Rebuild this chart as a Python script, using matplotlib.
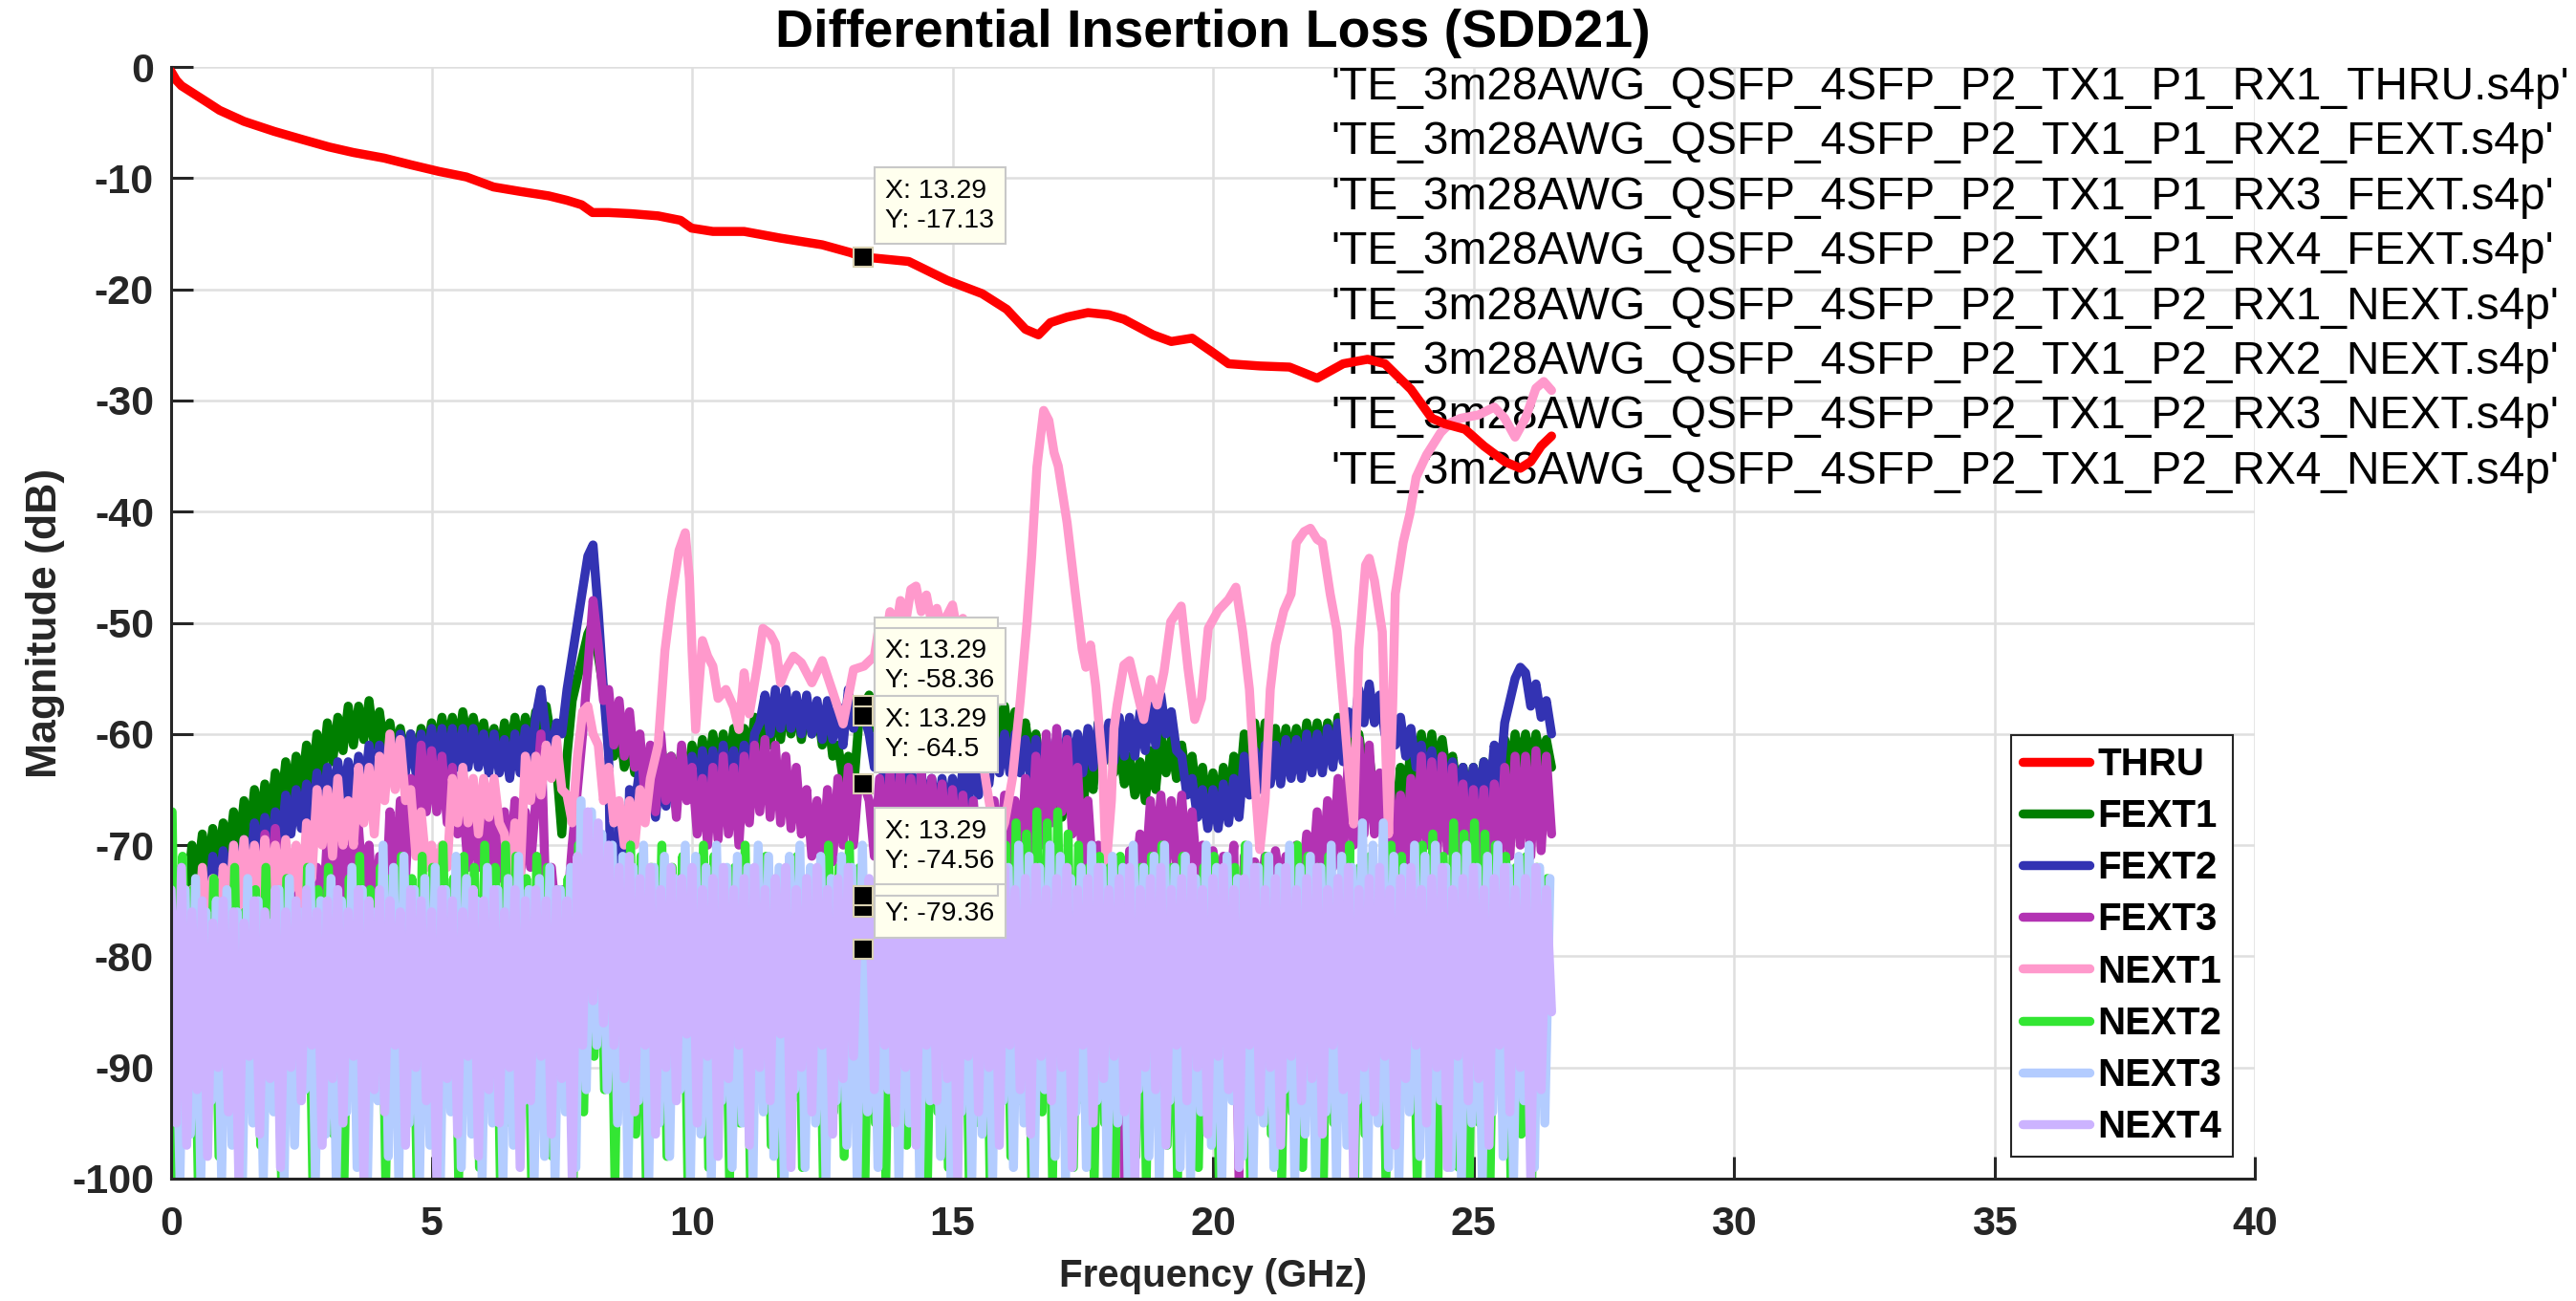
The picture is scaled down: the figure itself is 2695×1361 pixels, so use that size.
import numpy as np
import matplotlib.pyplot as plt

plt.rcParams['font.family'] = ['Liberation Sans', 'DejaVu Sans']

# ---------------- data (dB) ----------------
thru_f = [0, 0.1, 0.2, 0.4, 0.7, 0.93, 1.4, 1.98, 2.5, 3.03,
          3.5, 4.09, 4.6, 5.14, 5.67, 6.19, 6.7, 7.25, 7.6, 7.88,
          8.09, 8.4, 8.83, 9.35, 9.78, 9.99, 10.4, 11.0, 11.7, 12.5,
          13.04, 13.29, 13.51, 14.16, 14.9, 15.57, 16.04, 16.4, 16.65, 16.88,
          17.2, 17.6, 18.0, 18.29, 18.85, 19.2, 19.6, 19.97, 20.3, 20.9,
          21.47, 22.0, 22.5, 22.97, 23.3, 23.8, 24.2, 24.45, 24.84, 25.2,
          25.6, 25.9, 26.1, 26.3, 26.5]
thru_db = [-0.4, -1.2, -1.7, -2.3, -3.2, -3.9, -4.9, -5.8, -6.5, -7.2,
           -7.7, -8.2, -8.8, -9.4, -9.9, -10.8, -11.2, -11.6, -12.0, -12.4,
           -13.1, -13.1, -13.2, -13.4, -13.8, -14.5, -14.8, -14.8, -15.4, -16.0,
           -16.7, -17.13, -17.2, -17.5, -19.2, -20.4, -21.8, -23.6, -24.1, -23.0,
           -22.5, -22.1, -22.3, -22.7, -24.1, -24.7, -24.4, -25.6, -26.7, -26.9,
           -27.0, -28.0, -26.7, -26.3, -26.7, -29.0, -31.6, -32.1, -32.6, -34.1,
           -35.5, -36.1, -35.5, -34.1, -33.2]

# 0.1 GHz steps starting at 0 GHz
fext1_db = [
    -70, -78, -72, -75, -70, -73, -69, -72.5, -68.5, -71.5,
    -68, -71, -67, -70.5, -66, -69.5, -65, -68.5, -64.5, -68,
    -63.5, -67, -62.5, -66, -62, -65, -61, -64.5, -60, -63.5,
    -59, -62.5, -58.5, -61.5, -57.5, -61, -57.5, -60.5, -57, -61,
    -58, -61.5, -59, -62, -59.5, -62.5, -60, -62.5, -59.5, -62,
    -59, -61.5, -58.5, -61, -58.5, -61.5, -58, -61, -58.5, -61,
    -59, -62, -59.5, -62.5, -59, -62, -58.5, -61.5, -58.5, -61,
    -58, -61, -57.5, -60.5, -63, -69, -62, -57, -55, -53,
    -51, -50, -53, -56, -58, -62, -59, -63, -60, -63.5,
    -61, -64, -61.5, -64.5, -61, -64, -62, -65, -61.5, -64.5,
    -61, -64, -60.5, -63.5, -60, -63, -60, -63.5, -59.5, -63,
    -59.5, -62.5, -58.5, -62, -57.5, -61, -57, -60.5, -56.5, -60,
    -57, -60.5, -57, -60, -57.5, -61, -58, -62, -61, -64,
    -62, -65, -59, -57.4, -56.5, -59.5, -56, -59, -55.5, -59,
    -55.5, -58.5, -55, -58, -55, -58, -54.5, -58, -55, -58.5,
    -55, -58.5, -55.5, -59, -56, -59.5, -56.5, -60, -57, -60.5,
    -57.5, -61, -58, -61.5, -59, -62.5, -60, -63.5, -62, -65.5,
    -64, -67.5, -63, -66.5, -64, -67, -62, -65, -59, -62.5,
    -60, -63.5, -61, -64.5, -62, -65.5, -62.5, -66, -61.5, -65,
    -60, -63.5, -60.5, -64, -61, -64.5, -62, -66, -63, -67,
    -63.5, -67, -63, -66.5, -62, -65.5, -60, -64, -59, -63,
    -59, -62.5, -59.5, -63, -59.5, -62.5, -59.5, -62.5, -59, -62,
    -59, -62, -59, -62.5, -58.5, -62, -58.5, -62, -60, -63.5,
    -62, -66, -65, -68.5, -65, -68, -63, -66.5, -61, -64.5,
    -60, -63.5, -60, -63.5, -60.5, -64, -62, -65.5, -63, -66,
    -63, -66, -62.5, -65.5, -62, -65, -60.5, -63.5, -60, -63,
    -60, -63, -60, -62.5, -60.5, -63]

fext2_db = [
    -76, -80, -77, -80, -75, -78.5, -73, -76.5, -71, -74.5,
    -70.5, -74, -70, -73.5, -69.5, -73, -68, -71.5, -67.5, -71,
    -67, -70.5, -65.5, -69, -65, -68.5, -64.5, -68, -63.5, -67,
    -63, -66.5, -62.5, -66, -62.5, -66, -62, -65.5, -61, -64.5,
    -61, -64.5, -60.5, -64, -60, -63.5, -60, -63.5, -60, -63.5,
    -59.5, -63, -59.5, -63, -59.5, -63, -59.5, -63, -59.5, -63,
    -60, -63.5, -60, -63.5, -60.5, -64, -60, -63.5, -59.5, -62.5,
    -58.5, -56, -60, -61.5, -59, -60, -56, -53, -50, -47,
    -44, -43, -49, -56, -62, -92, -68, -89, -65, -66.5,
    -63, -66.5, -64, -67.5, -63, -66.5, -62.5, -66, -62, -65.5,
    -62, -65.5, -61.5, -65, -61.5, -65, -61, -64.5, -61.5, -65,
    -61, -64.5, -60, -59, -56.5, -60, -56, -59.5, -56, -59.5,
    -56.5, -60, -56.5, -60, -57, -60.5, -57, -60.5, -57.5, -61,
    -56, -59.5, -57.5, -58.36, -60, -63, -61, -64.5, -62, -65.5,
    -63, -66.5, -63, -66.5, -63.5, -67, -64, -67.5, -64, -67.5,
    -64, -67.5, -63, -66.5, -62, -65.5, -61, -64.5, -60, -63.5,
    -60, -63.5, -60, -63.5, -60.5, -64, -60.5, -64, -60.5, -64,
    -60.5, -64, -60, -63.5, -60, -63.5, -59.5, -63, -59, -62.5,
    -59, -62.5, -58.5, -62, -58.5, -62, -58, -61.5, -57.5, -61,
    -56.5, -60, -58, -61.5, -62, -65.5, -64, -67.5, -65, -68.5,
    -65, -68.5, -64.5, -68, -64, -67.5, -62, -65.5, -61.5, -65,
    -61, -64.5, -61, -64.5, -60.5, -64, -60.5, -64, -60, -63.5,
    -60, -63.5, -59.5, -63, -59, -62.5, -58, -60, -56, -59,
    -55.5, -59, -56.5, -60, -57.5, -61, -58.5, -62, -59.5, -63,
    -61, -64.5, -61.5, -65, -62, -65.5, -62.5, -66, -63, -66.5,
    -63, -66.5, -62.5, -66, -61, -64.5, -59, -57, -55, -54,
    -54.5, -57.5, -55.5, -58.5, -57, -60]

fext3_db = [
    -76, -85, -75, -82, -76, -80, -74, -79, -75, -80,
    -74, -79, -73, -78, -74, -79, -72, -76, -69, -75,
    -68.5, -74, -70, -77, -72, -79, -73, -80, -72, -78,
    -69, -76, -68.5, -75, -69, -76, -68.5, -75, -70, -77,
    -71, -78, -67, -74, -66, -73, -64, -68, -61, -67,
    -61.5, -67, -62, -68, -63, -69, -66, -72, -67, -72,
    -67, -72, -66.5, -73, -67, -72.5, -66, -73, -67, -72,
    -66, -60, -76, -72, -77, -74, -76, -70, -65, -60,
    -54, -48, -52, -57, -56, -61, -57, -62, -58, -63,
    -60, -66, -61, -67, -60, -66, -62, -67.5, -61, -66,
    -63, -69, -64, -70, -63, -69.5, -62, -69, -63, -70,
    -62, -68, -61, -67, -60.5, -67.5, -61, -68, -62, -68.5,
    -63, -69, -65, -71, -66, -72, -65, -71.5, -64, -70,
    -63, -70, -64, -64.5, -66, -71, -64, -70, -63.5, -70,
    -63.5, -70, -64, -70.5, -63.5, -70, -64, -70.5, -64.5, -71,
    -65, -71, -65.5, -71.5, -66, -72, -67, -72.5, -66, -72,
    -65.5, -72, -66, -72, -64, -71, -62, -70, -60, -68,
    -59.5, -67, -60.5, -69, -63, -72, -66, -73, -70, -74,
    -71, -75, -72, -100, -70.5, -74, -69, -73, -66, -72,
    -65.5, -72, -66, -72, -65.5, -72.5, -67, -73, -70, -74,
    -70.5, -74, -71, -75, -70, -100, -71, -74, -71.5, -75,
    -71, -74.5, -70.5, -74, -71, -75, -70, -74, -69, -73.5,
    -67, -73, -66, -72, -64, -71, -62, -70, -60.5, -69,
    -61, -69, -63.5, -70, -65, -71, -65.5, -72, -64, -71,
    -62, -70, -62.5, -71, -62, -70.5, -63, -71, -64.5, -72,
    -65, -72, -65, -72.5, -64.5, -72, -63, -71, -62, -70,
    -62, -71, -61.5, -70.5, -62, -69]

# NEXT1: 0.1 GHz steps from 0 to 9.2 GHz, then read points
next1_low_db = [
    -80, -86, -77, -84, -74, -79, -72, -78, -73, -79,
    -72, -77, -70, -76, -69.5, -75, -70, -76, -69.5, -74,
    -70, -75, -69.5, -74, -70, -76, -68, -73, -65, -70,
    -65, -71, -64, -70, -66, -70, -63, -68, -63, -69,
    -62, -66, -60, -65, -60.5, -66, -65, -71, -67, -72,
    -70, -73, -70, -72, -64, -68, -63, -68, -64, -69,
    -64, -67.5, -64, -68, -69, -74, -68, -73, -62, -66,
    -62, -65.5, -61, -64, -60.5, -65, -65.5, -68, -62, -58,
    -57.5, -60, -61, -66, -63, -68, -66, -70, -66, -70,
    -65, -68, -64]
next1_hi_f = [
    9.35, 9.48, 9.6, 9.75, 9.87, 9.95, 10.0, 10.07, 10.2, 10.3,
    10.4, 10.5, 10.65, 10.8, 10.9, 11.0, 11.1, 11.25, 11.36, 11.5,
    11.6, 11.7, 11.8, 11.95, 12.1, 12.3, 12.5, 12.7, 12.9, 13.1,
    13.3, 13.5, 13.6, 13.7, 13.8, 13.9, 14.0, 14.1, 14.2, 14.3,
    14.4, 14.5, 14.6, 14.7, 14.8, 14.9, 15.0, 15.1, 15.2, 15.35,
    15.5, 15.7, 15.85, 16.0, 16.15, 16.3, 16.43, 16.52, 16.62, 16.75,
    16.85, 16.95, 17.03, 17.2, 17.36, 17.49, 17.56, 17.65, 17.75, 17.88,
    17.95, 18.05, 18.1, 18.16, 18.29, 18.4, 18.5, 18.67, 18.8, 18.93,
    19.06, 19.19, 19.39, 19.52, 19.65, 19.78, 19.91, 20.1, 20.3, 20.44,
    20.57, 20.7, 20.8, 20.9, 21.0, 21.1, 21.2, 21.36, 21.5, 21.6,
    21.75, 21.87, 22.0, 22.1, 22.25, 22.38, 22.5, 22.6, 22.7, 22.8,
    22.93, 23.0, 23.1, 23.25, 23.32, 23.37, 23.45, 23.5, 23.65, 23.78,
    23.9, 24.1, 24.37, 24.56, 24.76, 25.1, 25.4, 25.6, 25.8, 26.0,
    26.2, 26.35, 26.5]
next1_hi_db = [
    -61, -52.5, -48, -43.5, -41.9, -46, -52.5, -59.6, -51.6, -53,
    -53.9, -56.8, -56, -57.6, -59.6, -54.5, -58.2, -54, -50.5, -51,
    -51.9, -55.4, -54.2, -53, -53.6, -55.4, -53.4, -56.2, -59.1, -54.2,
    -53.9, -53, -50, -52, -49, -51, -48, -50, -47, -46.7,
    -49, -47.5, -50, -48.7, -50.5, -49.3, -48.4, -51, -49.6, -54,
    -60, -66, -70, -68, -64, -57, -50, -44, -36, -30.9,
    -31.8, -34.7, -35.9, -41, -47.4, -52.4, -54, -52, -55.7, -62.8,
    -72, -66, -59.5, -57.4, -53.8, -53.4, -55.4, -58.7, -55.1, -57.4,
    -54.4, -49.9, -48.5, -54.1, -58.7, -56.8, -50.5, -48.9, -47.9, -46.8,
    -50.8, -56, -64, -70.4, -66, -56, -52, -48.9, -47.4, -42.8,
    -41.8, -41.5, -42.5, -42.8, -47.4, -50.7, -57.2, -63, -68.1, -52.4,
    -44.8, -44.2, -46.2, -50.8, -62, -69, -57.4, -47.4, -42.8, -40.2,
    -36.9, -34.9, -32.9, -32, -31.6, -31.3, -30.6, -31.6, -33.3, -31.6,
    -28.9, -28.3, -29.1]

# 0.1 GHz steps starting at 0.02 GHz
next2_db = [
    -67, -100, -71, -92, -74, -100, -76, -90, -73, -98,
    -75, -93, -72, -100, -76, -89, -74, -97, -72, -91,
    -75, -100, -73, -94, -76, -90, -72, -100, -74, -93,
    -72, -96, -75, -100, -73, -91, -71, -98, -74, -92,
    -72, -100, -73, -95, -71, -90, -73, -100, -71, -94,
    -72, -97, -70, -91, -73, -100, -71, -93, -72, -99,
    -70, -92, -72, -100, -70, -95, -71, -90, -73, -100,
    -71, -93, -72, -98, -74, -91, -73, -100, -70, -94,
    -68, -89, -69, -92, -71, -100, -72, -91, -70, -96,
    -71, -100, -72, -93, -70, -98, -72, -90, -71, -100,
    -72, -94, -70, -99, -71, -91, -73, -100, -72, -95,
    -70, -100, -72, -92, -71, -97, -73, -100, -72, -93,
    -71, -99, -73, -91, -72, -100, -70, -94, -72, -98,
    -70, -92, -72, -100, -74.56, -95, -72, -100, -71, -93,
    -70, -97, -71, -91, -73, -100, -72, -94, -70, -99,
    -72, -92, -71, -100, -73, -95, -70, -100, -72, -91,
    -70, -98, -68, -93, -69, -100, -67, -94, -68, -100,
    -67, -92, -69, -99, -70, -93, -72, -100, -71, -95,
    -72, -100, -71, -92, -73, -98, -72, -100, -71, -93,
    -70, -97, -72, -100, -71, -91, -73, -99, -72, -94,
    -71, -100, -73, -92, -72, -98, -70, -100, -72, -93,
    -71, -96, -73, -100, -72, -94, -70, -99, -71, -92,
    -72, -100, -71, -95, -73, -91, -70, -100, -72, -96,
    -71, -93, -72, -100, -70, -97, -71, -92, -73, -100,
    -70, -94, -69, -100, -71, -93, -68, -99, -69, -100,
    -68, -95, -69, -100, -70, -92, -71, -100, -72, -96,
    -71, -100, -72, -93, -73]

# 0.1 GHz steps starting at 0.07 GHz
next3_db = [
    -78, -100, -74, -96, -73, -100, -76, -93, -75, -100,
    -74, -97, -76, -100, -73, -95, -75, -100, -77, -94,
    -74, -100, -73, -97, -76, -92, -72, -100, -75, -96,
    -73, -100, -75, -94, -72, -99, -74, -100, -76, -93,
    -70, -98, -72, -100, -71, -95, -74, -100, -73, -97,
    -72, -100, -74, -94, -71, -99, -73, -96, -75, -100,
    -72, -95, -74, -100, -73, -97, -71, -93, -74, -100,
    -73, -98, -72, -100, -74, -94, -72, -99, -66, -92,
    -67, -88, -69, -92, -70, -95, -71, -100, -72, -93,
    -70, -100, -72, -95, -71, -98, -73, -92, -70, -100,
    -71, -96, -72, -100, -70, -93, -72, -99, -71, -95,
    -72, -100, -70, -94, -71, -98, -72, -100, -71, -92,
    -70, -99, -72, -95, -71, -100, -73, -93, -71, -97,
    -72, -100, -70, -94, -75.6, -99, -72, -92, -71, -100,
    -70, -95, -72, -100, -71, -93, -73, -98, -70, -100,
    -71, -94, -72, -100, -70, -96, -72, -100, -71, -93,
    -72, -99, -70, -95, -71, -100, -72, -92, -70, -98,
    -71, -100, -73, -94, -72, -99, -70, -93, -72, -100,
    -71, -95, -72, -100, -70, -92, -72, -98, -71, -100,
    -70, -93, -72, -99, -71, -100, -73, -94, -70, -97,
    -72, -100, -71, -93, -73, -98, -70, -100, -72, -95,
    -71, -99, -72, -92, -70, -100, -72, -96, -71, -100,
    -72, -94, -70, -100, -71, -97, -72, -93, -68, -100,
    -70, -95, -68, -99, -71, -100, -72, -94, -70, -98,
    -71, -100, -70, -93, -72, -99, -71, -100, -70, -95,
    -72, -100, -71, -94, -70, -98, -72, -100, -71, -93,
    -70, -99, -72, -95, -73]

# 0.1 GHz steps starting at 0 GHz
next4_db = [
    -74, -95, -72, -97, -76, -92, -75, -98, -77, -90,
    -75, -94, -76, -100, -77, -89, -75, -96, -76, -91,
    -74, -99, -76, -90, -75, -93, -74, -88, -76, -97,
    -75, -91, -74, -95, -76, -89, -74, -100, -75, -92,
    -74, -94, -75, -88, -76, -97, -74, -90, -75, -93,
    -76, -100, -74, -91, -75, -96, -76, -89, -74, -98,
    -75, -92, -74, -95, -76, -90, -74, -99, -75, -93,
    -74, -89, -75, -96, -74, -91, -75, -100, -71, -88,
    -67, -84, -68, -86, -70, -88, -72, -91, -71, -94,
    -73, -88, -72, -96, -74, -90, -72, -93, -73, -87,
    -72, -95, -74, -89, -73, -98, -72, -91, -74, -88,
    -73, -97, -72, -90, -74, -93, -73, -87, -72, -99,
    -74, -90, -73, -94, -72, -88, -74, -96, -73, -91,
    -72, -89, -74, -79.36, -73, -92, -72, -88, -74, -95,
    -73, -90, -72, -97, -74, -88, -73, -93, -72, -91,
    -74, -100, -73, -89, -72, -94, -74, -90, -73, -97,
    -72, -88, -74, -92, -73, -96, -72, -89, -74, -93,
    -73, -90, -72, -99, -74, -88, -73, -95, -72, -91,
    -74, -89, -73, -94, -72, -100, -74, -90, -73, -92,
    -72, -97, -74, -88, -73, -93, -72, -90, -74, -96,
    -73, -89, -72, -92, -74, -99, -73, -88, -72, -94,
    -74, -90, -73, -97, -72, -89, -74, -93, -73, -91,
    -72, -96, -74, -88, -73, -92, -72, -100, -74, -90,
    -73, -94, -72, -89, -74, -97, -73, -91, -72, -88,
    -74, -95, -73, -90, -72, -99, -74, -89, -73, -93,
    -72, -91, -74, -97, -73, -88, -72, -94, -74, -90,
    -73, -100, -72, -92, -74, -85]

labels = ['THRU', 'FEXT1', 'FEXT2', 'FEXT3', 'NEXT1', 'NEXT2', 'NEXT3', 'NEXT4']
colors = ['#FF0000', '#007F00', '#3333B3', '#B333B3',
          '#FF99CC', '#33E633', '#B3CCFF', '#CCB3FF']
file_names = [
    "'TE_3m28AWG_QSFP_4SFP_P2_TX1_P1_RX1_THRU.s4p'",
    "'TE_3m28AWG_QSFP_4SFP_P2_TX1_P1_RX2_FEXT.s4p'",
    "'TE_3m28AWG_QSFP_4SFP_P2_TX1_P1_RX3_FEXT.s4p'",
    "'TE_3m28AWG_QSFP_4SFP_P2_TX1_P1_RX4_FEXT.s4p'",
    "'TE_3m28AWG_QSFP_4SFP_P2_TX1_P2_RX1_NEXT.s4p'",
    "'TE_3m28AWG_QSFP_4SFP_P2_TX1_P2_RX2_NEXT.s4p'",
    "'TE_3m28AWG_QSFP_4SFP_P2_TX1_P2_RX3_NEXT.s4p'",
    "'TE_3m28AWG_QSFP_4SFP_P2_TX1_P2_RX4_NEXT.s4p'",
]

# data tips at X = 13.29 (drawn in this order so the overlaps match)
tip_x = 13.29
tip_y = [-57.4, -58.36, -64.5, -79.36, -75.6, -74.56, -17.13]


def steps(vals, start):
    return start + 0.1 * np.arange(len(vals))


next1_f = np.concatenate([steps(next1_low_db, 0.0), next1_hi_f])
next1_db = np.concatenate([next1_low_db, next1_hi_db])

series = {
    'THRU': (thru_f, thru_db),
    'FEXT1': (steps(fext1_db, 0.0), fext1_db),
    'FEXT2': (steps(fext2_db, 0.0), fext2_db),
    'FEXT3': (steps(fext3_db, 0.0), fext3_db),
    'NEXT1': (next1_f, next1_db),
    'NEXT2': (steps(next2_db, 0.02), next2_db),
    'NEXT3': (steps(next3_db, 0.07), next3_db),
    'NEXT4': (steps(next4_db, 0.0), next4_db),
}

fig = plt.figure(figsize=(26.95, 13.61), dpi=100)
ax = fig.add_axes([179 / 2695, 1 - 1233 / 1361, 2180 / 2695, 1163 / 1361])

handles = []
for name, col in zip(labels, colors):
    f, v = series[name]
    z = 2.5 if name == 'THRU' else 2
    ln, = ax.plot(f, v, color=col, lw=6.8, label=name, zorder=z,
                  solid_capstyle='round', solid_joinstyle='round')
    handles.append(ln)

ax.set_xlim(0, 40)
ax.set_ylim(-100, 0)
ax.set_xticks(range(0, 41, 5))
ax.set_xticklabels([str(t) for t in range(0, 41, 5)], fontweight='bold')
ax.set_yticks(range(-100, 1, 10))
ax.set_yticklabels([str(t) for t in range(-100, 1, 10)], fontweight='bold')
ax.tick_params(direction='in', length=16.5, width=2.2, labelsize=31,
               color='#262626', labelcolor='#262626')
ax.tick_params(axis='x', pad=20)
ax.tick_params(axis='y', pad=13)
for s in ['top', 'right']:
    ax.spines[s].set_visible(False)
for s in ['left', 'bottom']:
    ax.spines[s].set_color('#262626')
    ax.spines[s].set_linewidth(2.2)
ax.grid(True, color='#DFDFDF', lw=1.8)
ax.set_axisbelow(True)

ax.set_title('Differential Insertion Loss (SDD21)', fontsize=40,
             fontweight='bold', pad=15)
ax.set_xlabel('Frequency (GHz)', fontsize=29, fontweight='bold',
              labelpad=11, color='#262626')
ax.set_ylabel('Magnitude (dB)', fontsize=32, fontweight='bold',
              labelpad=5, color='#262626')

# file name list at the top right
for k, name in enumerate(file_names):
    ax.text(0.5564, (1233 - (104 + 57.4 * k)) / 1163, name,
            transform=ax.transAxes, fontsize=34.5, va='baseline', ha='left',
            zorder=1.5)

# data tips
for yv in tip_y:
    ax.annotate('X: %.2f\nY: %s' % (tip_x, ('%.2f' % yv).rstrip('0').rstrip('.')),
                xy=(tip_x, yv), xytext=(16.5, 18.5 if yv > -30 else 17),
                textcoords='offset points', ha='left', va='bottom',
                fontsize=20.5, linespacing=1.25, zorder=5,
                bbox=dict(boxstyle='square,pad=0.4', fc='#FFFFEE',
                          ec='#C8C8C8', lw=1.5))
ax.plot([tip_x] * len(tip_y), tip_y, ls='none', marker='s', ms=14,
        mfc='black', mec='#D8D0B0', mew=1.5, zorder=6)

leg = ax.legend(handles, labels, loc='lower right',
                bbox_to_anchor=(0.9895, 0.0198), borderaxespad=0,
                prop=dict(weight='bold', size=29), fancybox=False,
                edgecolor='#262626', framealpha=1, borderpad=0.3,
                labelspacing=0.4, handlelength=1.75, handletextpad=0.2)
leg.get_frame().set_linewidth(1.5)
leg.set_zorder(7)

fig.savefig('out.png', dpi=100)
